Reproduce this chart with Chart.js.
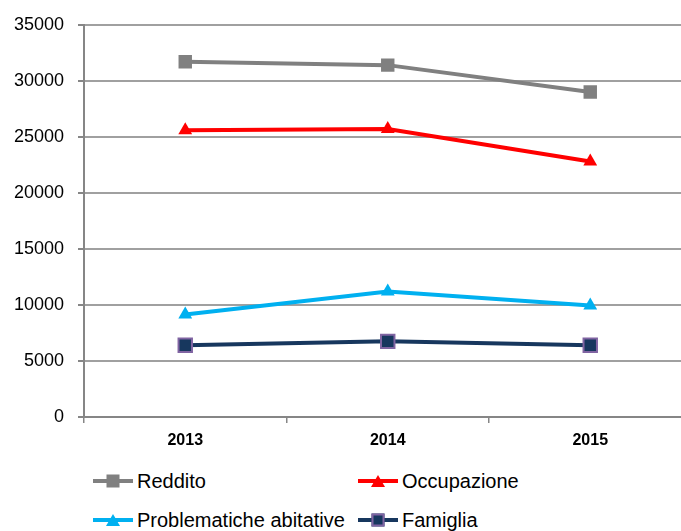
<!DOCTYPE html>
<html>
<head>
<meta charset="utf-8">
<script src="https://cdn.jsdelivr.net/npm/chart.js@4/dist/chart.umd.min.js"></script>
<style>
    html, body { margin: 0; padding: 0; background: #fff; overflow: hidden; width: 681px; height: 531px; }
    #wrap { position: absolute; left: 0; top: 0; width: 703px; height: 460px; }
    .legend-item { position: absolute; display: flex; align-items: center; font-family: 'Liberation Sans', Arial, sans-serif; font-size: 20px; color: #000; height: 24px; }
    .legend-line { position: relative; width: 40px; height: 4px; margin-right: 4px; }
    .mk { position: absolute; left: 50%; top: 50%; transform: translate(-50%, -50%); }
    .mk-sq { width: 13px; height: 13px; }
    .mk-tri { width: 0; height: 0; border-left: 7px solid transparent; border-right: 7px solid transparent; border-bottom: 12px solid; background: none; }
</style>
</head>
<body>
<div id="wrap"><canvas id="lineChart"></canvas></div>
<div id="legend"></div>

<script>
// ===== DATA =====
const years = ['2013', '2014', '2015'];
const reddito = [31700, 31400, 29000];
const occupazione = [25600, 25700, 22800];
const problematicheAbitative = [9150, 11200, 9950];
const famiglia = [6400, 6750, 6400];
const yTicks = [0, 5000, 10000, 15000, 20000, 25000, 30000, 35000];

const series = [
    { label: 'Reddito', data: reddito, color: '#808080', style: 'rect', border: '#808080' },
    { label: 'Occupazione', data: occupazione, color: '#ff0000', style: 'triangle', border: '#ff0000' },
    { label: 'Problematiche abitative', data: problematicheAbitative, color: '#00b0f0', style: 'triangle', border: '#00b0f0' },
    { label: 'Famiglia', data: famiglia, color: '#17375e', style: 'rect', border: '#8064a2' }
];

const gridColor = '#a0a0a0';
const axisColor = '#868686';

const ctx = document.getElementById('lineChart');

new Chart(ctx, {
    type: 'line',
    data: {
        labels: years,
        datasets: series.map(s => ({
            label: s.label,
            data: s.data,
            borderColor: s.color,
            backgroundColor: s.color,
            borderWidth: 4,
            tension: 0,
            pointStyle: s.style,
            pointRadius: s.style === 'rect' ? 9.5 : 8,
            pointBackgroundColor: s.color,
            pointBorderColor: s.border,
            pointBorderWidth: s.label === 'Famiglia' ? 2 : 0,
            fill: false
        }))
    },
    options: {
        responsive: true,
        maintainAspectRatio: false,
        animation: false,
        devicePixelRatio: 1,
        layout: { padding: { top: 24, right: 1, left: 0, bottom: 0 } },
        plugins: {
            legend: { display: false },
            tooltip: { enabled: false }
        },
        scales: {
            x: {
                type: 'category',
                offset: true,
                grid: {
                    offset: true,
                    drawOnChartArea: false,
                    drawTicks: true,
                    tickLength: 6,
                    color: axisColor,
                    lineWidth: 1.5
                },
                border: { color: axisColor, width: 2 },
                ticks: {
                    color: '#000',
                    padding: 8,
                    font: { family: 'Liberation Sans', size: 16, weight: 'bold' }
                },
                afterFit: function(scale) { scale.height = 43; }
            },
            y: {
                min: 0,
                max: 35000,
                afterBuildTicks: function(scale) {
                    scale.ticks = yTicks.map(v => ({ value: v }));
                },
                grid: {
                    color: gridColor,
                    lineWidth: 2,
                    tickLength: 6,
                    tickColor: axisColor
                },
                border: { color: axisColor, width: 2 },
                ticks: {
                    color: '#000',
                    padding: 14,
                    font: { family: 'Liberation Sans', size: 18 },
                    callback: function(value) { return String(value); }
                },
                afterFit: function(scale) { scale.width = 84; }
            }
        }
    }
});

// Legend laid out in two columns like the original
const legendPos = [
    { left: 93, top: 469 },
    { left: 358, top: 469 },
    { left: 93, top: 508 },
    { left: 358, top: 508 }
];
const legendEl = document.getElementById('legend');
series.forEach((s, i) => {
    const item = document.createElement('div');
    item.className = 'legend-item';
    item.style.left = legendPos[i].left + 'px';
    item.style.top = legendPos[i].top + 'px';
    let marker;
    if (s.style === 'rect') {
        marker = `<div class="mk mk-sq" style="background:${s.color};${s.label === 'Famiglia' ? 'box-sizing:border-box;border:2px solid ' + s.border + ';' : ''}"></div>`;
    } else {
        marker = `<div class="mk mk-tri" style="border-bottom-color:${s.color};"></div>`;
    }
    item.innerHTML = `<div class="legend-line" style="background:${s.color};">${marker}</div><span>${s.label}</span>`;
    legendEl.appendChild(item);
});
</script>
</body>
</html>
